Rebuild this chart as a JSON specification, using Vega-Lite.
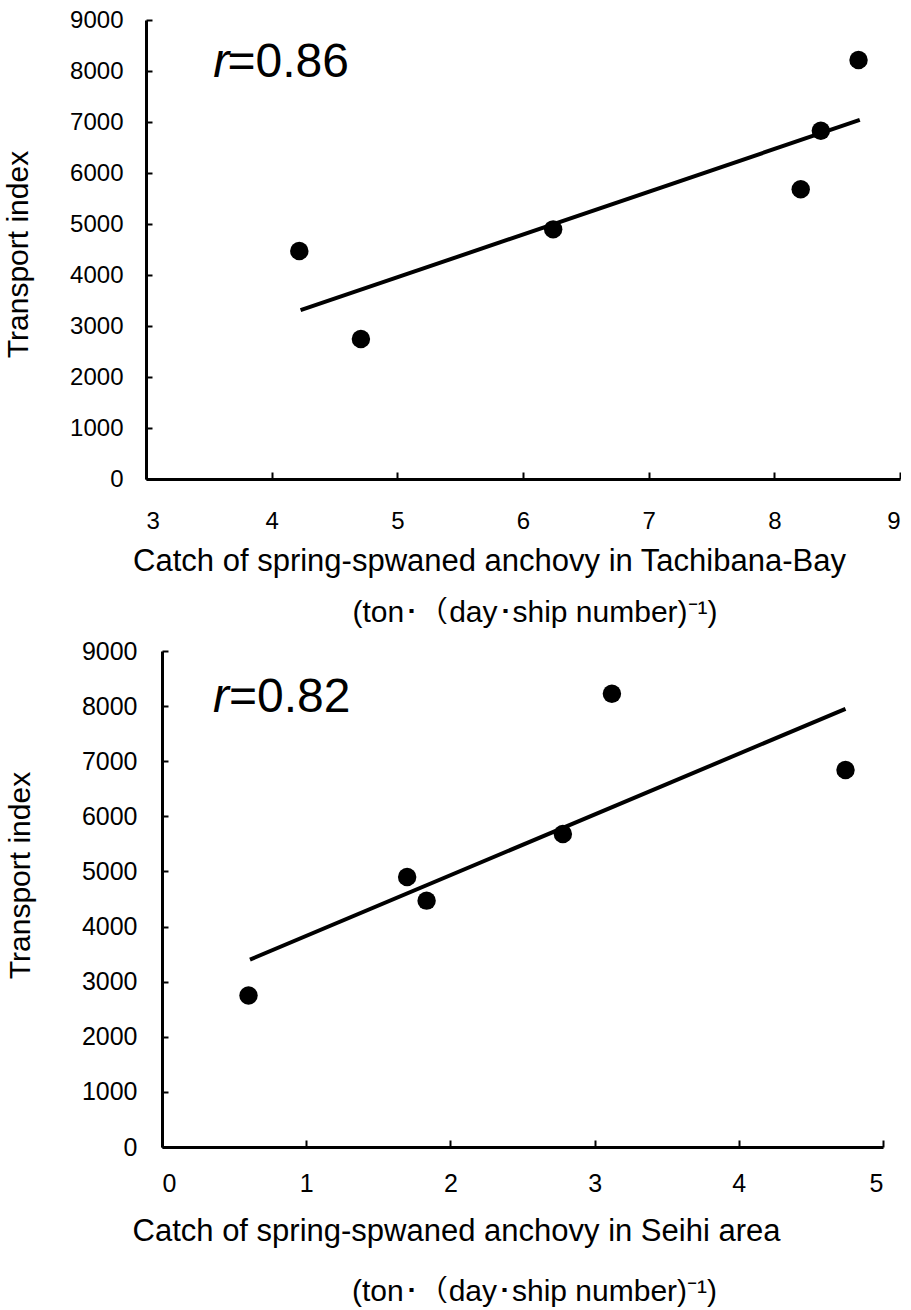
{
  "$schema": "https://vega.github.io/schema/vega-lite/v6.json",
  "background": "white",
  "padding": {"left": 3, "top": 8, "right": 0, "bottom": 0},
  "config": {
    "view": {"stroke": null},
    "font": "Liberation Sans",
    "axis": {
      "domainColor": "black", "domainWidth": 3, "tickColor": "black", "tickWidth": 2,
      "grid": false, "labelColor": "black", "titleColor": "black",
      "labelFont": "Liberation Sans", "titleFont": "Liberation Sans", "titleFontWeight": "normal"
    }
  },
  "datasets": {
    "tachibana": [
      {"catch": 4.22, "transport": 4470}, {"catch": 4.71, "transport": 2745},
      {"catch": 6.24, "transport": 4895}, {"catch": 8.21, "transport": 5680},
      {"catch": 8.37, "transport": 6830}, {"catch": 8.67, "transport": 8215}
    ],
    "tachibanaFit": [{"catch": 4.23, "transport": 3310}, {"catch": 8.68, "transport": 7040}],
    "tachibanaR": [{"catch": 3.535, "transport": 7880, "label": "r"}],
    "tachibanaV": [{"catch": 3.648, "transport": 7880, "label": "=0.86"}],
    "seihi": [
      {"catch": 0.60, "transport": 2750}, {"catch": 1.70, "transport": 4900},
      {"catch": 1.835, "transport": 4470}, {"catch": 2.78, "transport": 5680},
      {"catch": 3.12, "transport": 8225}, {"catch": 4.74, "transport": 6840}
    ],
    "seihiFit": [{"catch": 0.61, "transport": 3400}, {"catch": 4.74, "transport": 7950}],
    "seihiR": [{"catch": 0.354, "transport": 7893, "label": "r"}],
    "seihiV": [{"catch": 0.465, "transport": 7893, "label": "=0.82"}]
  },
  "spacing": 11,
  "vconcat": [
    {
      "width": 754,
      "height": 459,
      "title": {"text": "(ton･（day･ship number)⁻¹)", "orient": "bottom", "anchor": "middle", "fontSize": 30, "fontWeight": "normal", "font": "Liberation Sans", "offset": 22, "dx": 12, "color": "black"},
      "layer": [
        {
          "data": {"name": "tachibana"},
          "mark": {"type": "circle", "size": 340, "opacity": 1, "color": "black"},
          "encoding": {
            "x": {"field": "catch", "type": "quantitative", "scale": {"domain": [3, 9], "nice": false, "zero": false},
              "axis": {"title": "Catch of spring-spwaned anchovy in Tachibana-Bay", "values": [3, 4, 5, 6, 7, 8, 9], "format": "d",
                "tickSize": -7, "labelPadding": 37, "labelFontSize": 24, "titleFontSize": 31, "titlePadding": 13, "titleX": 343, "titleAlign": "center"}},
            "y": {"field": "transport", "type": "quantitative", "scale": {"domain": [0, 9000], "nice": false},
              "axis": {"title": "Transport index", "values": [0, 1000, 2000, 3000, 4000, 5000, 6000, 7000, 8000, 9000], "format": "d",
                "tickSize": -6, "labelPadding": 29, "labelFontSize": 24, "titleFontSize": 30, "titlePadding": 36, "titleY": 234}}
          }
        },
        {
          "data": {"name": "tachibanaFit"},
          "mark": {"type": "line", "color": "black", "strokeWidth": 4},
          "encoding": {"x": {"field": "catch", "type": "quantitative"}, "y": {"field": "transport", "type": "quantitative"}}
        },
        {
          "data": {"name": "tachibanaR"},
          "mark": {"type": "text", "align": "left", "baseline": "alphabetic", "fontSize": 48, "fontStyle": "italic", "font": "Liberation Sans", "color": "black"},
          "encoding": {"x": {"field": "catch", "type": "quantitative"}, "y": {"field": "transport", "type": "quantitative"}, "text": {"field": "label"}}
        },
        {
          "data": {"name": "tachibanaV"},
          "mark": {"type": "text", "align": "left", "baseline": "alphabetic", "fontSize": 48, "font": "Liberation Sans", "color": "black"},
          "encoding": {"x": {"field": "catch", "type": "quantitative"}, "y": {"field": "transport", "type": "quantitative"}, "text": {"field": "label"}}
        }
      ]
    },
    {
      "width": 737,
      "height": 496,
      "title": {"text": "(ton･（day･ship number)⁻¹)", "orient": "bottom", "anchor": "middle", "fontSize": 30, "fontWeight": "normal", "font": "Liberation Sans", "offset": 31, "dx": 20, "color": "black"},
      "layer": [
        {
          "data": {"name": "seihi"},
          "mark": {"type": "circle", "size": 340, "opacity": 1, "color": "black"},
          "encoding": {
            "x": {"field": "catch", "type": "quantitative", "scale": {"domain": [0, 5], "nice": false, "zero": false, "range": [16, 737]},
              "axis": {"title": "Catch of spring-spwaned anchovy in Seihi area", "values": [0, 1, 2, 3, 4, 5], "format": "d",
                "tickSize": -7, "labelPadding": 31, "labelFontSize": 25, "titleFontSize": 31, "titlePadding": 20, "titleX": 310, "titleAlign": "center"}},
            "y": {"field": "transport", "type": "quantitative", "scale": {"domain": [0, 9000], "nice": false},
              "axis": {"title": "Transport index", "values": [0, 1000, 2000, 3000, 4000, 5000, 6000, 7000, 8000, 9000], "format": "d", "offset": -16,
                "tickSize": -6, "labelPadding": 31, "labelFontSize": 25, "titleFontSize": 30, "titlePadding": 46, "titleY": 224}}
          }
        },
        {
          "data": {"name": "seihiFit"},
          "mark": {"type": "line", "color": "black", "strokeWidth": 4},
          "encoding": {"x": {"field": "catch", "type": "quantitative"}, "y": {"field": "transport", "type": "quantitative"}}
        },
        {
          "data": {"name": "seihiR"},
          "mark": {"type": "text", "align": "left", "baseline": "alphabetic", "fontSize": 48, "fontStyle": "italic", "font": "Liberation Sans", "color": "black"},
          "encoding": {"x": {"field": "catch", "type": "quantitative"}, "y": {"field": "transport", "type": "quantitative"}, "text": {"field": "label"}}
        },
        {
          "data": {"name": "seihiV"},
          "mark": {"type": "text", "align": "left", "baseline": "alphabetic", "fontSize": 48, "font": "Liberation Sans", "color": "black"},
          "encoding": {"x": {"field": "catch", "type": "quantitative"}, "y": {"field": "transport", "type": "quantitative"}, "text": {"field": "label"}}
        }
      ]
    }
  ]
}
